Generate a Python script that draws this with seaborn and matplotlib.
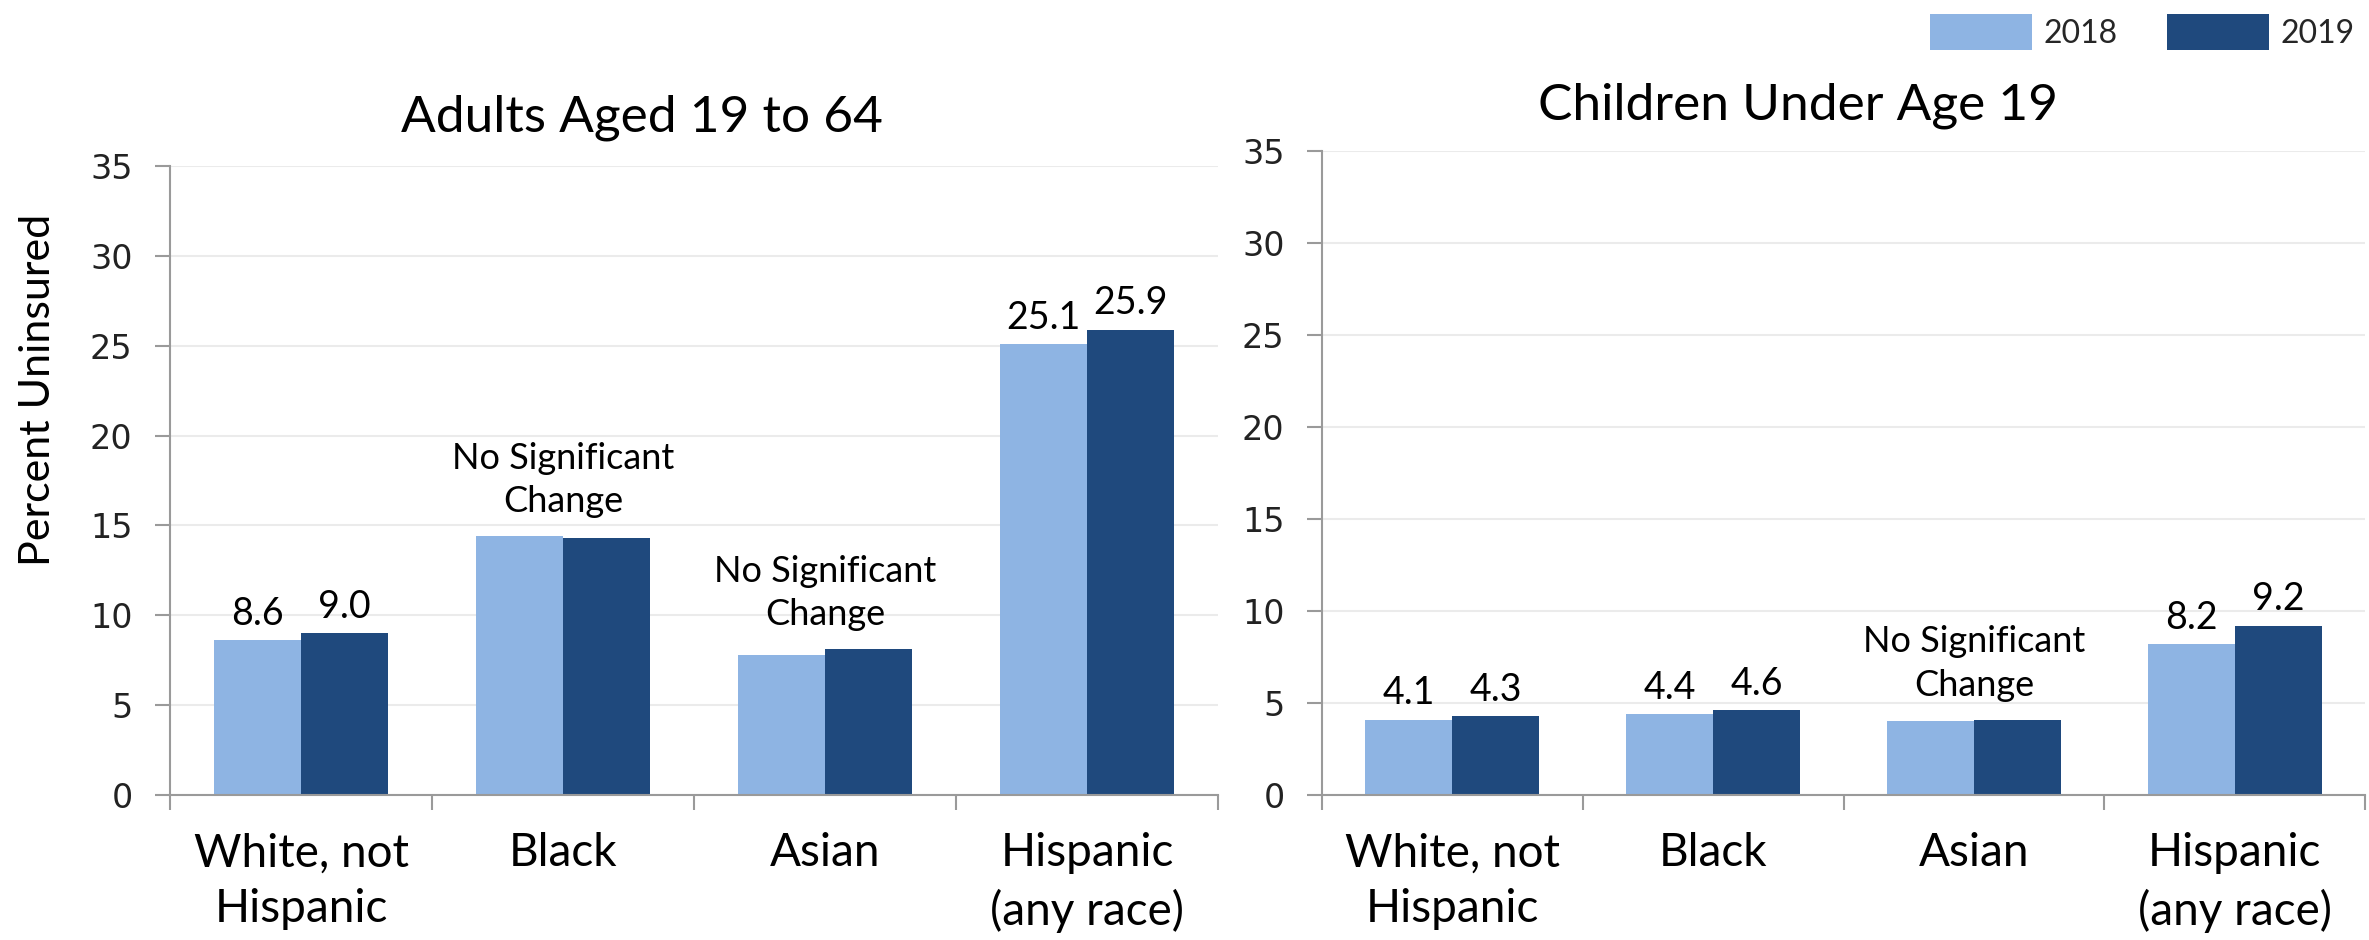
import matplotlib
matplotlib.use("Agg")
import matplotlib.pyplot as plt
from matplotlib.patches import Patch
from matplotlib.ticker import FixedLocator, MultipleLocator
import numpy as np
import pandas as pd
import seaborn as sns

# ---- data -------------------------------------------------------------
groups = ["White, not\nHispanic", "Black", "Asian", "Hispanic\n(any race)"]
years = ["2018", "2019"]
adults_2018 = [8.6, 14.4, 7.8, 25.1]
adults_2019 = [9.0, 14.3, 8.1, 25.9]
children_2018 = [4.1, 4.4, 4.0, 8.2]
children_2019 = [4.3, 4.6, 4.1, 9.2]
# groups whose year-over-year change is not statistically significant
adults_nsc = [False, True, True, False]
children_nsc = [False, False, True, False]
panel_titles = ["Adults Aged 19 to 64", "Children Under Age 19"]
y_label = "Percent Uninsured"
nsc_text = "No Significant\nChange"

# ---- style ------------------------------------------------------------
light_blue = "#8EB4E3"
dark_blue = "#1F497D"
palette = {"2018": light_blue, "2019": dark_blue}

sns.set_theme(style="white")
plt.rcParams["font.family"] = ["Lato", "DejaVu Sans"]

W, H = 2369, 940
fig = plt.figure(figsize=(W / 100, H / 100), dpi=100)
ax1 = fig.add_axes([170 / W, 1 - 795 / H, (1218 - 170) / W, (795 - 166) / H])
ax2 = fig.add_axes([1322 / W, 1 - 795 / H, (2365 - 1322) / W, (795 - 151) / H])


def long_frame(v18, v19):
    return pd.DataFrame({
        "group": groups * 2,
        "year": [years[0]] * len(groups) + [years[1]] * len(groups),
        "value": list(v18) + list(v19),
    })


def draw_panel(ax, v18, v19, nsc):
    df = long_frame(v18, v19)
    sns.barplot(data=df, x="group", y="value", hue="year", order=groups,
                hue_order=years, palette=palette, width=0.667, saturation=1,
                edgecolor="none", linewidth=0, legend=False, ax=ax)

    # value labels above each bar, skipped where the change is not significant
    for cont, vals in zip(ax.containers, (v18, v19)):
        labels = ["" if n else f"{v:.1f}" for v, n in zip(vals, nsc)]
        ax.bar_label(cont, labels=labels, padding=6, fontsize=27,
                     color="black")

    for i, (a, b, n) in enumerate(zip(v18, v19, nsc)):
        if n:
            ax.annotate(nsc_text, xy=(i, max(a, b)), xytext=(0, 13),
                        textcoords="offset points", ha="center", va="bottom",
                        fontsize=26, linespacing=1.38, color="black")

    ax.set_ylim(0, 35)
    ax.set_xlim(-0.5, len(groups) - 0.5)
    ax.yaxis.set_major_locator(MultipleLocator(5))
    ax.grid(axis="y", color="#EBEBEB", linewidth=1.5)
    ax.set_axisbelow(True)

    for side in ("top", "right"):
        ax.spines[side].set_visible(False)
    for side in ("left", "bottom"):
        ax.spines[side].set_color("#9A9A9A")
        ax.spines[side].set_linewidth(1.5)

    # category separators as minor ticks on the x axis
    ax.xaxis.set_minor_locator(FixedLocator(np.arange(-0.5, len(groups), 1.0)))
    ax.tick_params(axis="x", which="minor", direction="out", length=11,
                   width=1.5, color="#9A9A9A", bottom=True)
    ax.tick_params(axis="x", which="major", length=0, pad=27, labelsize=33,
                   labelcolor="black")
    ax.tick_params(axis="y", which="major", direction="out", length=11,
                   width=1.5, color="#9A9A9A", left=True, pad=16,
                   labelsize=24, labelcolor="#222222")
    for lbl in ax.get_yticklabels():
        lbl.set_fontfamily("DejaVu Sans")
    for lbl in ax.get_xticklabels():
        lbl.set_linespacing(1.4)
    ax.set_xlabel("")
    ax.set_ylabel("")


draw_panel(ax1, adults_2018, adults_2019, adults_nsc)
draw_panel(ax2, children_2018, children_2019, children_nsc)

fig.text(38 / W, 1 - 390 / H, y_label, rotation=90, ha="center",
         va="center", fontsize=31, color="black")

fig.text(642 / W, 1 - 118 / H, panel_titles[0], ha="center", va="center",
         fontsize=37, color="black")
fig.text(1798 / W, 1 - 106 / H, panel_titles[1], ha="center", va="center",
         fontsize=37, color="black")

handles = [Patch(facecolor=palette[y], edgecolor="none", label=y) for y in years]
fig.legend(handles=handles, loc="upper right", bbox_to_anchor=(1.0, 1.0),
           ncol=2, frameon=False, fontsize=23, handlelength=3.2,
           handleheight=1.35, handletextpad=0.35, columnspacing=1.55,
           borderaxespad=0.05)

fig.savefig("out.png", dpi=100, facecolor="white")
